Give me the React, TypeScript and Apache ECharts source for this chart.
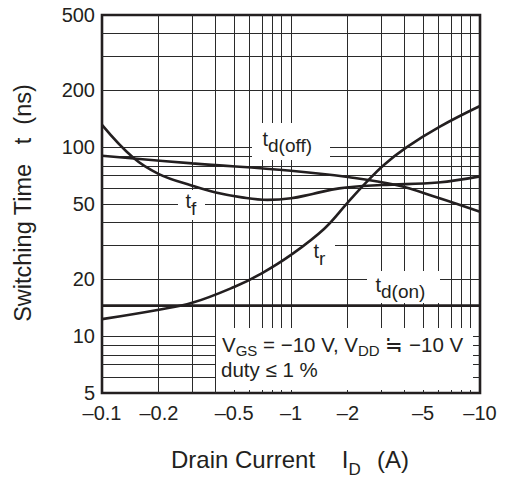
import React, { useEffect, useRef } from 'react';
import * as echarts from 'echarts';

// ---- axis ticks / labels ----
const xTicks = [0.1, 0.2, 0.5, 1, 2, 5, 10];
const xTickLabels = ['–0.1', '–0.2', '–0.5', '–1', '–2', '–5', '–10'];
const yTicks = [5, 10, 20, 50, 100, 200, 500];
const yTickLabels = ['5', '10', '20', '50', '100', '200', '500'];
const xGrid = [0.2, 0.3, 0.4, 0.5, 0.6, 0.7, 0.8, 0.9, 1, 2, 3, 4, 5, 6, 7, 8, 9];
const yGrid = [6, 7, 8, 9, 10, 20, 30, 40, 50, 60, 70, 80, 90, 100, 200, 300, 400];

// ---- series: |I_D| (A) vs switching time (ns) ----
const tdOnI = [0.1, 10];
const tdOnT = [14.5, 14.5];
const tdOffI = [0.1, 0.3, 1, 2, 3.6, 6, 10];
const tdOffT = [90, 82, 75, 69.5, 63, 54, 45.5];
const tfI = [0.1, 0.146, 0.2, 0.3, 0.4, 0.55, 0.75, 1.0, 1.3, 1.8, 3, 6, 10];
const tfT = [131, 88, 72, 62.5, 57.5, 54.2, 52.6, 53.6, 56.5, 60.5, 63, 65, 70];
const trI = [0.1, 0.2, 0.3, 0.5, 0.7, 1, 1.5, 2, 2.5, 3.1, 4.1, 6.1, 10];
const trT = [12.3, 13.8, 15.0, 18.2, 21.5, 26.9, 37, 51, 65, 80.5, 100, 128, 165];

const FONT = '"Liberation Sans", Arial, Helvetica, sans-serif';
const INK = '#231f20';

const lg = (v: number) => Math.log10(v);

function nearestLabel(v: number, ticks: number[], labels: string[]) {
  let best = 0;
  for (let i = 1; i < ticks.length; i++) {
    if (Math.abs(lg(ticks[i]) - v) < Math.abs(lg(ticks[best]) - v)) best = i;
  }
  return labels[best];
}

type Part = { t: string; size: number; dy?: number; x?: number };

function runs(x0: number, baseline: number, parts: Part[], z = 12): any[] {
  const ctx = document.createElement('canvas').getContext('2d') as CanvasRenderingContext2D;
  let x = x0;
  const els: any[] = [];
  for (const p of parts) {
    const font = `${p.size}px ${FONT}`;
    ctx.font = font;
    if (p.x !== undefined) x = p.x;
    els.push({
      type: 'text',
      z,
      silent: true,
      style: {
        x,
        y: baseline + (p.dy || 0) - 0.35 * p.size,
        text: p.t,
        font,
        fill: INK,
        align: 'left',
        verticalAlign: 'middle',
      },
    });
    x += ctx.measureText(p.t).width;
  }
  return els;
}

function whiteBox(x: number, y: number, w: number, h: number) {
  return {
    type: 'rect',
    z: 6,
    silent: true,
    shape: { x, y, width: w, height: h },
    style: { fill: '#ffffff' },
  };
}

function curve(name: string, I: number[], T: number[]) {
  return {
    type: 'line',
    name,
    data: I.map((x, i) => [lg(x), lg(T[i])]),
    smooth: 0.4,
    symbol: 'none',
    silent: true,
    z: 10,
    lineStyle: { color: INK, width: 2.6 },
  };
}

export default function App() {
  const ref = useRef<HTMLDivElement>(null);

  useEffect(() => {
    if (!ref.current) return;
    const chart = echarts.init(ref.current, null, { renderer: 'svg' });

    const graphics: any[] = [
      whiteBox(252, 123, 78, 37),
      whiteBox(178, 190, 27, 30),
      whiteBox(304, 237, 31, 33),
      whiteBox(367, 271, 73, 32),
      whiteBox(216, 328, 257, 62),
      ...runs(262.5, 146, [
        { t: 't', size: 20 },
        { t: 'd(off)', size: 19, dy: 6.5 },
      ]),
      ...runs(185.5, 208, [
        { t: 't', size: 20 },
        { t: 'f', size: 19, dy: 7 },
      ]),
      ...runs(313.5, 258, [
        { t: 't', size: 20 },
        { t: 'r', size: 19, dy: 7 },
      ]),
      ...runs(375.5, 292, [
        { t: 't', size: 20 },
        { t: 'd(on)', size: 19, dy: 6.5 },
      ]),
      ...runs(222, 351.7, [
        { t: 'V', size: 20.5 },
        { t: 'GS', size: 15, dy: 4.5 },
        { t: ' = −10 V, V', size: 20.5 },
        { t: 'DD', size: 15, dy: 4.5 },
        { t: ' ≒ −10 V', size: 20.5 },
      ]),
      ...runs(221, 377, [{ t: 'duty ≤ 1 %', size: 20.5 }]),
      ...runs(171, 468, [
        { t: 'Drain Current    I', size: 24 },
        { t: 'D', size: 17, dy: 7 },
        { t: '(A)', size: 24, x: 377 },
      ]),
      {
        type: 'text',
        z: 12,
        silent: true,
        x: 23,
        y: 203,
        rotation: Math.PI / 2,
        style: {
          x: 0,
          y: 0,
          text: 'Switching Time   t  (ns)',
          font: `23.5px ${FONT}`,
          fill: INK,
          align: 'center',
          verticalAlign: 'middle',
        },
      },
    ];

    const option: any = {
      animation: false,
      backgroundColor: '#ffffff',
      grid: {
        left: 102,
        top: 15,
        width: 378,
        height: 378,
        show: true,
        borderColor: INK,
        borderWidth: 2.6,
        backgroundColor: 'transparent',
        containLabel: false,
      },
      xAxis: {
        type: 'value',
        min: -1,
        max: 1,
        axisLine: { show: false },
        axisTick: { show: false },
        splitLine: { show: false },
        axisLabel: {
          customValues: xTicks.map(lg),
          formatter: (v: number) => nearestLabel(v, xTicks, xTickLabels),
          fontSize: 20,
          fontFamily: FONT,
          color: INK,
          margin: 10,
        },
      },
      yAxis: {
        type: 'value',
        min: lg(5),
        max: lg(500),
        axisLine: { show: false },
        axisTick: { show: false },
        splitLine: { show: false },
        axisLabel: {
          customValues: yTicks.map(lg),
          formatter: (v: number) => nearestLabel(v, yTicks, yTickLabels),
          fontSize: 20,
          fontFamily: FONT,
          color: INK,
          margin: 7,
        },
      },
      graphic: { elements: graphics },
      series: [
        {
          type: 'line',
          name: 'grid',
          data: [[-1, lg(5)]],
          symbol: 'none',
          silent: true,
          z: 1,
          lineStyle: { width: 0 },
          markLine: {
            z: 1,
            silent: true,
            symbol: ['none', 'none'],
            label: { show: false },
            lineStyle: { color: '#2a2a2a', width: 1, type: 'solid' },
            emphasis: { disabled: true },
            data: [
              ...xGrid.map((v) => ({ xAxis: lg(v) })),
              ...yGrid.map((v) => ({ yAxis: lg(v) })),
            ],
          },
        },
        curve('td(on)', tdOnI, tdOnT),
        curve('td(off)', tdOffI, tdOffT),
        curve('tf', tfI, tfT),
        curve('tr', trI, trT),
      ],
    };

    chart.setOption(option);
    return () => chart.dispose();
  }, []);

  return (
    <div
      ref={ref}
      style={{ position: 'fixed', left: 0, top: 0, width: 509, height: 478, background: '#fff' }}
    />
  );
}
